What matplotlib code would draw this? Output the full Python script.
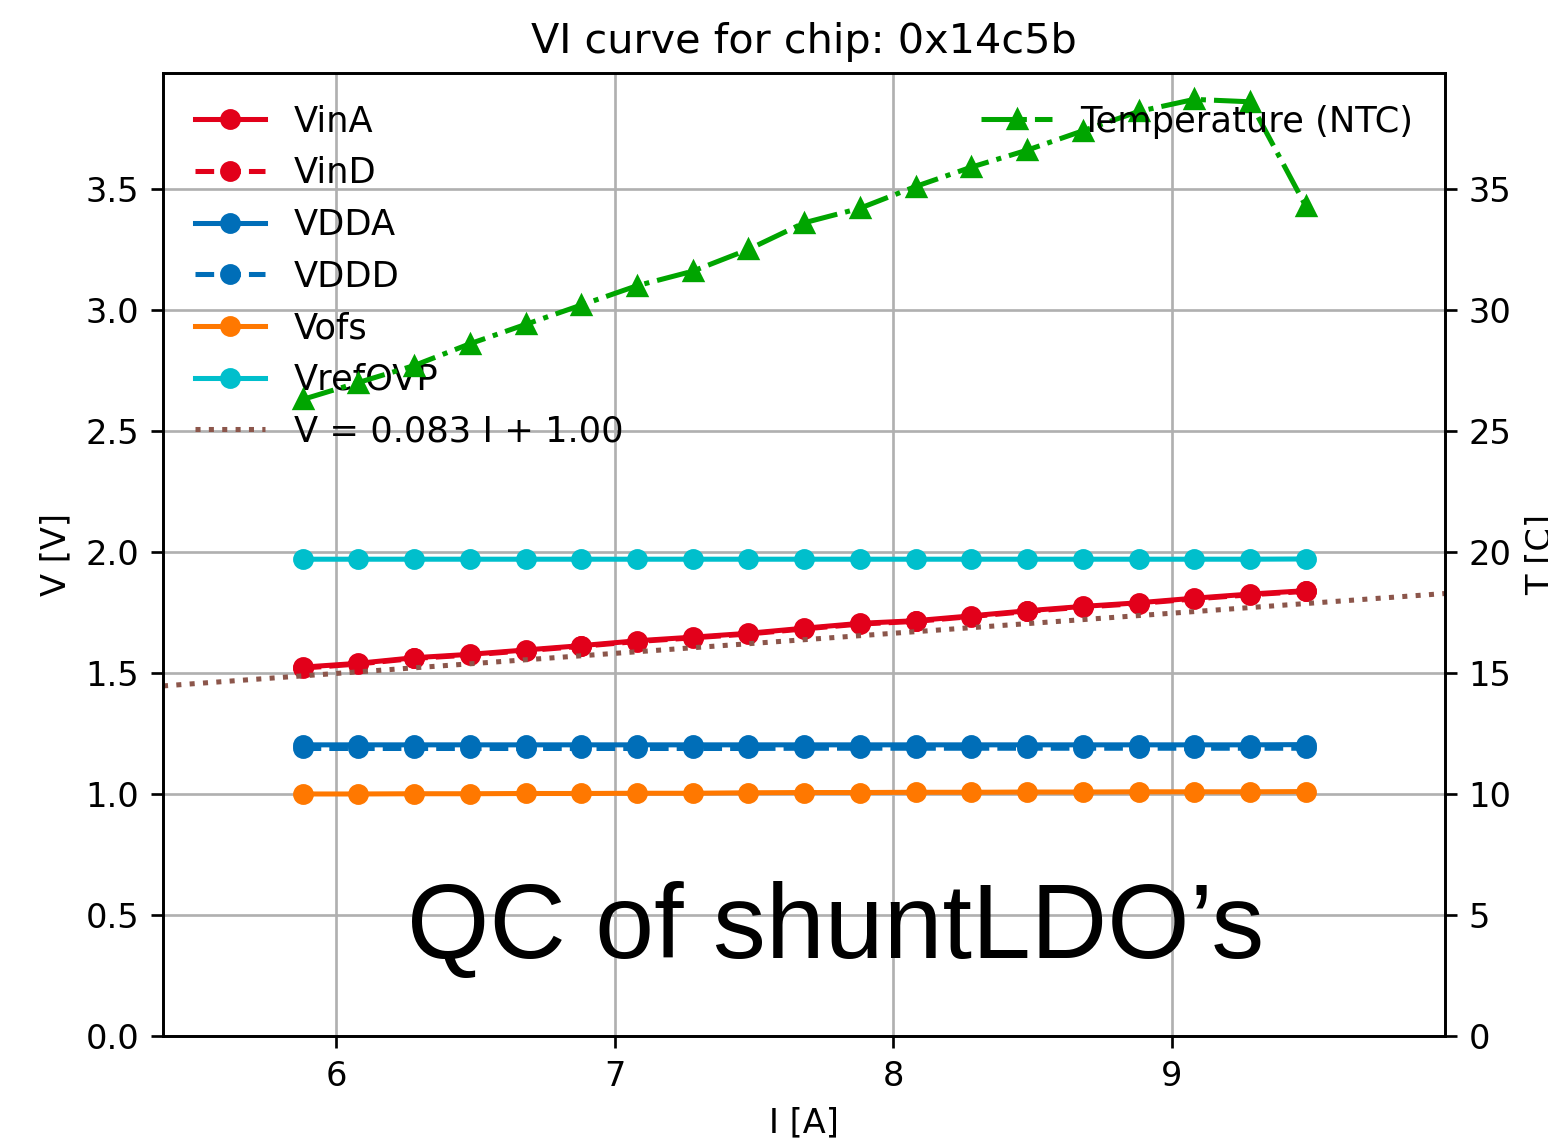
import matplotlib
matplotlib.use("Agg")
import matplotlib.pyplot as plt
import numpy as np

# ---- data ----
current = [5.88, 6.08, 6.28, 6.48, 6.68, 6.88, 7.08, 7.28, 7.48, 7.68,
           7.88, 8.08, 8.28, 8.48, 8.68, 8.88, 9.08, 9.28, 9.48]
vin_a = [1.524, 1.540, 1.563, 1.577, 1.595, 1.613, 1.633, 1.648, 1.664, 1.685,
         1.705, 1.716, 1.736, 1.757, 1.775, 1.790, 1.809, 1.826, 1.840]
vin_d = [1.520, 1.537, 1.560, 1.574, 1.592, 1.610, 1.630, 1.645, 1.661, 1.682,
         1.702, 1.713, 1.733, 1.754, 1.772, 1.787, 1.806, 1.823, 1.837]
vdda = [1.203, 1.203, 1.203, 1.203, 1.203, 1.203, 1.203, 1.203, 1.203, 1.203,
        1.203, 1.203, 1.203, 1.203, 1.203, 1.203, 1.203, 1.203, 1.204]
vddd = [1.188, 1.188, 1.188, 1.188, 1.188, 1.188, 1.188, 1.188, 1.188, 1.189,
        1.189, 1.189, 1.189, 1.189, 1.189, 1.189, 1.189, 1.189, 1.189]
vofs = [1.000, 1.000, 1.001, 1.001, 1.002, 1.002, 1.003, 1.003, 1.005, 1.006,
        1.006, 1.007, 1.007, 1.008, 1.008, 1.009, 1.009, 1.009, 1.010]
vref_ovp = [1.970, 1.970, 1.970, 1.970, 1.970, 1.970, 1.970, 1.970, 1.970, 1.970,
            1.970, 1.970, 1.970, 1.970, 1.970, 1.970, 1.970, 1.970, 1.971]
temperature = [26.3, 27.0, 27.7, 28.6, 29.4, 30.2, 31.0, 31.6, 32.5, 33.6,
               34.2, 35.1, 35.9, 36.6, 37.4, 38.2, 38.7, 38.6, 34.3]
fit_slope = 0.083
fit_intercept = 1.00

series_names = ["VinA", "VinD", "VDDA", "VDDD", "Vofs", "VrefOVP"]
v_ticks = [0.0, 0.5, 1.0, 1.5, 2.0, 2.5, 3.0, 3.5]
t_ticks = [0, 5, 10, 15, 20, 25, 30, 35]
x_ticks = [6, 7, 8, 9]

# ---- figure ----
W, H, DPI = 1548, 1143, 242
fig = plt.figure(figsize=(W / DPI, H / DPI), dpi=DPI)
ax = fig.add_axes([163 / W, 107 / H, 1282 / W, 963 / H])

red = "#e2001a"
blue = "#006eb8"
orange = "#ff7800"
cyan = "#00bfcc"
green = "#00a500"
brown = "#8c564b"
ms = 5.2

ax.plot(current, vin_a, "-o", color=red, ms=ms, label=series_names[0])
ax.plot(current, vin_d, "--o", color=red, ms=ms, label=series_names[1])
ax.plot(current, vdda, "-o", color=blue, ms=ms, label=series_names[2])
ax.plot(current, vddd, "--o", color=blue, ms=ms, label=series_names[3])
ax.plot(current, vofs, "-o", color=orange, ms=ms, label=series_names[4])
ax.plot(current, vref_ovp, "-o", color=cyan, ms=ms, label=series_names[5])

ax.set_xlim(5.379, 9.98)
ax.set_ylim(0, 3.979)
xl = np.array(ax.get_xlim())
ax.plot(xl, fit_slope * xl + fit_intercept, ":", color=brown,
        label=f"V = {fit_slope:.3f} I + {fit_intercept:.2f}")
ax.set_xlim(5.379, 9.98)

ax.set_xticks(x_ticks)
ax.set_yticks(v_ticks)
ax.grid(True)
ax.set_xlabel("I [A]")
ax.set_ylabel("V [V]")
ax.set_title("VI curve for chip: 0x14c5b", fontsize=12.3)
ax.legend(loc="upper left", frameon=False, fontsize=10.5, handlelength=2.0)

ax2 = ax.twinx()
ax2.plot(current, temperature, "-.^", color=green, ms=ms,
         label="Temperature (NTC)")
ax2.set_ylim(0, 39.79)
ax2.set_yticks(t_ticks)
ax2.set_ylabel("T [C]")
ax2.legend(loc="upper right", frameon=False, fontsize=10.5, handlelength=2.0)

fig.text(836 / W, (H - 958) / H, "QC of shuntLDO\u2019s", ha="center",
         va="baseline", fontsize=31.5, family=["Liberation Sans", "DejaVu Sans"],
         color="black")

fig.savefig("out.png", dpi=DPI)
